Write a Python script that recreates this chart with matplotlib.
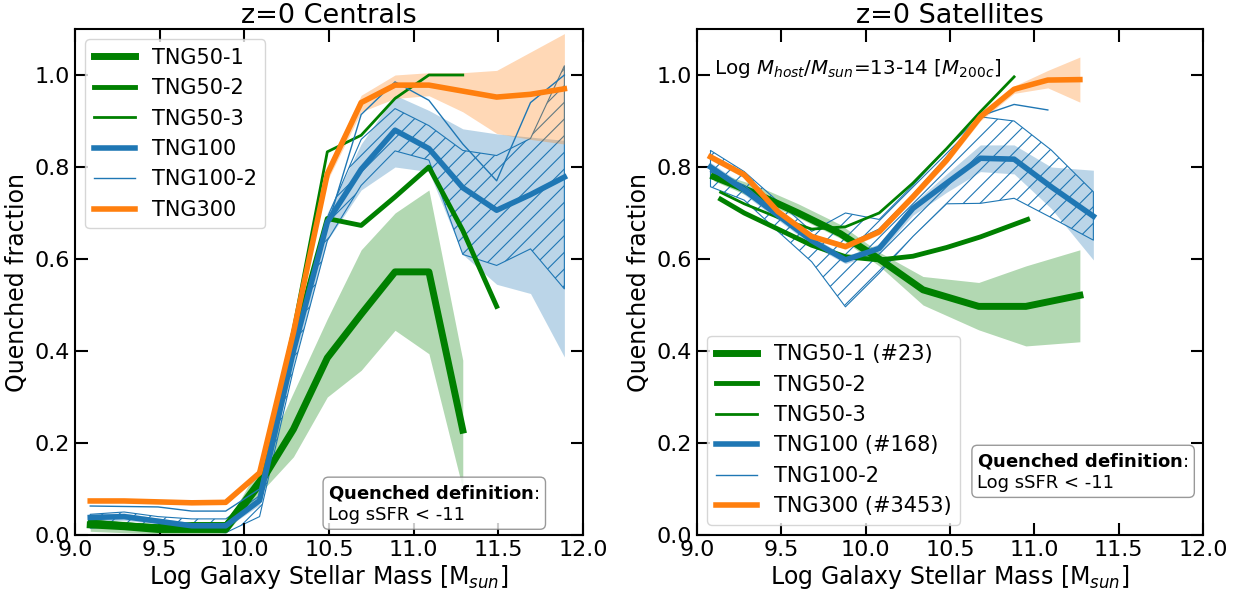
import numpy as np
import matplotlib
matplotlib.use("Agg")
import matplotlib.pyplot as plt

# ---- z=0 centrals (left panel) ----
cen_x = [9.09, 9.29, 9.49, 9.69, 9.89, 10.09, 10.29, 10.49, 10.69, 10.89, 11.09, 11.29, 11.49, 11.69, 11.89]

cen_tng50_1 = [0.022, 0.018, 0.012, 0.012, 0.012, 0.11, 0.23, 0.385, 0.48, 0.572, 0.572, 0.228]
cen_tng50_1_lo = [0.008, 0.005, 0.003, 0.003, 0.003, 0.09, 0.17, 0.30, 0.358, 0.445, 0.394, 0.10]
cen_tng50_1_hi = [0.035, 0.03, 0.022, 0.022, 0.022, 0.15, 0.31, 0.47, 0.62, 0.70, 0.75, 0.38]
cen_tng50_2 = [0.028, 0.022, 0.018, 0.022, 0.022, 0.12, 0.42, 0.688, 0.673, 0.735, 0.80, 0.662, 0.497]
cen_tng50_3 = [0.03, 0.025, 0.02, 0.025, 0.025, 0.12, 0.45, 0.833, 0.869, 0.949, 1.0, 1.0]

cen_tng100 = [0.038, 0.040, 0.030, 0.020, 0.020, 0.075, 0.40, 0.68, 0.795, 0.88, 0.84, 0.755, 0.706, 0.74, 0.778]
cen_tng100_lo = [0.030, 0.032, 0.024, 0.015, 0.015, 0.065, 0.37, 0.64, 0.75, 0.80, 0.79, 0.61, 0.545, 0.525, 0.387]
cen_tng100_hi = [0.046, 0.048, 0.037, 0.027, 0.027, 0.09, 0.43, 0.70, 0.85, 0.956, 0.923, 0.883, 0.872, 0.865, 0.858]
cen_hatch_lo = [0.015, 0.02, 0.015, 0.01, 0.005, 0.04, 0.36, 0.64, 0.76, 0.835, 0.815, 0.61, 0.586, 0.622, 0.535]
cen_hatch_hi = [0.045, 0.05, 0.04, 0.035, 0.035, 0.085, 0.42, 0.69, 0.86, 0.927, 0.89, 0.836, 0.825, 0.862, 1.02]
cen_tng100_2 = [0.063, 0.062, 0.061, 0.052, 0.052, 0.10, 0.42, 0.67, 0.914, 0.985, 0.945, 0.85, 0.77, 0.94, 1.0]

cen_tng300 = [0.074, 0.074, 0.072, 0.070, 0.071, 0.135, 0.44, 0.785, 0.94, 0.978, 0.978, 0.965, 0.952, 0.958, 0.97]
cen_tng300_lo = [0.070, 0.070, 0.068, 0.066, 0.067, 0.128, 0.43, 0.77, 0.92, 0.949, 0.955, 0.92, 0.873, 0.86, 0.85]
cen_tng300_hi = [0.078, 0.078, 0.076, 0.074, 0.075, 0.142, 0.45, 0.80, 0.956, 1.0, 1.005, 1.005, 1.01, 1.05, 1.09]

# ---- z=0 satellites (right panel) ----
sat_x = [9.08, 9.28, 9.48, 9.68, 9.88, 10.08, 10.28, 10.48, 10.68, 10.88, 11.08, 11.27]

sat_tng50_1_x = [9.10, 9.35, 9.60, 9.85, 10.08, 10.34, 10.67, 10.95, 11.27]
sat_tng50_1 = [0.779, 0.742, 0.700, 0.655, 0.600, 0.533, 0.497, 0.497, 0.521]
sat_tng50_1_lo = [0.77, 0.73, 0.69, 0.645, 0.585, 0.50, 0.446, 0.411, 0.42]
sat_tng50_1_hi = [0.79, 0.76, 0.72, 0.675, 0.615, 0.562, 0.549, 0.585, 0.62]

sat_tng50_2_x = [9.14, 9.28, 9.48, 9.68, 9.88, 10.08, 10.28, 10.48, 10.68, 10.96]
sat_tng50_2 = [0.73, 0.70, 0.665, 0.63, 0.605, 0.598, 0.606, 0.625, 0.648, 0.686]
sat_tng50_3_x = [9.14, 9.28, 9.48, 9.68, 9.88, 10.08, 10.28, 10.48, 10.68, 10.88]
sat_tng50_3 = [0.745, 0.72, 0.69, 0.665, 0.67, 0.70, 0.765, 0.84, 0.92, 0.996]

sat_tng100_x = [9.08, 9.28, 9.48, 9.68, 9.88, 10.08, 10.28, 10.48, 10.68, 10.88, 11.10, 11.35]
sat_tng100 = [0.80, 0.75, 0.695, 0.64, 0.598, 0.623, 0.71, 0.765, 0.819, 0.817, 0.757, 0.693]
sat_tng100_lo = [0.79, 0.74, 0.685, 0.63, 0.59, 0.613, 0.695, 0.745, 0.79, 0.785, 0.71, 0.598]
sat_tng100_hi = [0.81, 0.76, 0.705, 0.65, 0.606, 0.633, 0.72, 0.785, 0.848, 0.848, 0.80, 0.793]
sat_hatch_lo = [0.757, 0.728, 0.66, 0.594, 0.496, 0.569, 0.649, 0.72, 0.721, 0.732, 0.69, 0.641]
sat_hatch_hi = [0.836, 0.79, 0.725, 0.66, 0.70, 0.686, 0.76, 0.84, 0.909, 0.90, 0.837, 0.746]
sat_tng100_2 = [0.79, 0.76, 0.70, 0.645, 0.63, 0.665, 0.74, 0.822, 0.911, 0.936, 0.924]

sat_tng300 = [0.822, 0.783, 0.703, 0.649, 0.627, 0.659, 0.735, 0.815, 0.909, 0.969, 0.989, 0.99]
sat_tng300_lo = [0.815, 0.776, 0.697, 0.643, 0.621, 0.653, 0.728, 0.807, 0.90, 0.96, 0.972, 0.941]
sat_tng300_hi = [0.829, 0.790, 0.709, 0.655, 0.633, 0.665, 0.742, 0.823, 0.918, 0.976, 1.01, 1.039]

labels_cen = ["TNG50-1", "TNG50-2", "TNG50-3", "TNG100", "TNG100-2", "TNG300"]
labels_sat = ["TNG50-1 (#23)", "TNG50-2", "TNG50-3", "TNG100 (#168)", "TNG100-2", "TNG300 (#3453)"]

GREEN = "green"
BLUE = "tab:blue"
ORANGE = "tab:orange"
lws = [5, 3.5, 2, 4, 1, 4]

plt.rcParams["font.family"] = "DejaVu Sans"
plt.rcParams["hatch.linewidth"] = 0.8

fig = plt.figure(figsize=(12.55, 5.95), dpi=100)
W, H = 1255.0, 595.0
ax1 = fig.add_axes([75 / W, 60 / H, 508 / W, 506 / H])
ax2 = fig.add_axes([697 / W, 60 / H, 506 / W, 506 / H])


def shade(ax, x, lo, hi, color):
    ax.fill_between(x[:len(lo)], lo, hi, color=color, alpha=0.3, lw=0)


def hatch(ax, x, lo, hi):
    ax.fill_between(x[:len(lo)], lo, hi, facecolor="none", edgecolor=BLUE, hatch="//", lw=0.8)


# left panel
shade(ax1, cen_x, cen_tng50_1_lo, cen_tng50_1_hi, GREEN)
ax1.plot(cen_x[:len(cen_tng50_1)], cen_tng50_1, color=GREEN, lw=lws[0], label=labels_cen[0])
ax1.plot(cen_x[:len(cen_tng50_2)], cen_tng50_2, color=GREEN, lw=lws[1], label=labels_cen[1])
ax1.plot(cen_x[:len(cen_tng50_3)], cen_tng50_3, color=GREEN, lw=lws[2], label=labels_cen[2])
shade(ax1, cen_x, cen_tng100_lo, cen_tng100_hi, BLUE)
hatch(ax1, cen_x, cen_hatch_lo, cen_hatch_hi)
ax1.plot(cen_x, cen_tng100, color=BLUE, lw=lws[3], label=labels_cen[3])
ax1.plot(cen_x, cen_tng100_2, color=BLUE, lw=lws[4], label=labels_cen[4])
shade(ax1, cen_x, cen_tng300_lo, cen_tng300_hi, ORANGE)
ax1.plot(cen_x, cen_tng300, color=ORANGE, lw=lws[5], label=labels_cen[5])

# right panel
shade(ax2, sat_tng50_1_x, sat_tng50_1_lo, sat_tng50_1_hi, GREEN)
ax2.plot(sat_tng50_1_x, sat_tng50_1, color=GREEN, lw=lws[0], label=labels_sat[0])
ax2.plot(sat_tng50_2_x, sat_tng50_2, color=GREEN, lw=lws[1], label=labels_sat[1])
ax2.plot(sat_tng50_3_x, sat_tng50_3, color=GREEN, lw=lws[2], label=labels_sat[2])
shade(ax2, sat_tng100_x, sat_tng100_lo, sat_tng100_hi, BLUE)
hatch(ax2, sat_tng100_x, sat_hatch_lo, sat_hatch_hi)
ax2.plot(sat_tng100_x, sat_tng100, color=BLUE, lw=lws[3], label=labels_sat[3])
ax2.plot(sat_x[:len(sat_tng100_2)], sat_tng100_2, color=BLUE, lw=lws[4], label=labels_sat[4])
shade(ax2, sat_x, sat_tng300_lo, sat_tng300_hi, ORANGE)
ax2.plot(sat_x, sat_tng300, color=ORANGE, lw=lws[5], label=labels_sat[5])

ax2.text(0.034, 0.922, r"Log $M_{host}/M_{sun}$=13-14 [$M_{200c}$]", transform=ax2.transAxes,
         fontsize=14.3, va="center", ha="left")

box = dict(boxstyle="round", facecolor="white", edgecolor="gray", alpha=0.8)
qtext = r"$\bf{Quenched\ definition}$:" + "\nLog sSFR < -11"
ax1.text(0.499, 0.022, qtext, transform=ax1.transAxes, fontsize=13, va="bottom", ha="left", bbox=box)
ax2.text(0.554, 0.085, qtext, transform=ax2.transAxes, fontsize=13, va="bottom", ha="left", bbox=box)

for ax, title, lab, loc in [(ax1, "z=0 Centrals", labels_cen, "upper left"),
                            (ax2, "z=0 Satellites", labels_sat, "lower left")]:
    ax.set_xlim(9.0, 12.0)
    ax.set_ylim(0.0, 1.1)
    ax.set_xticks([9.0, 9.5, 10.0, 10.5, 11.0, 11.5, 12.0])
    ax.set_yticks([0.0, 0.2, 0.4, 0.6, 0.8, 1.0])
    ax.tick_params(direction="in", length=9, width=1.5, labelsize=16, top=True, right=True)
    for sp in ax.spines.values():
        sp.set_linewidth(1.5)
    ax.set_xlabel(r"Log Galaxy Stellar Mass [M$_{sun}$]", fontsize=17, labelpad=2)
    ax.set_ylabel("Quenched fraction", fontsize=17)
    ax.set_title(title, fontsize=19.5, pad=4)
    ax.legend(loc=loc, fontsize=15)

fig.savefig("out.png", dpi=100)
